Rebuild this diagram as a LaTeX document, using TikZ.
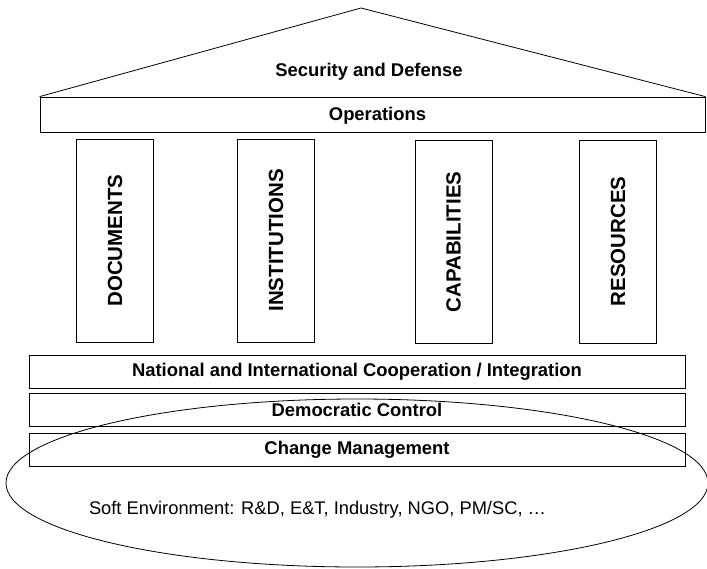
\documentclass[tikz,border=0pt]{standalone}
\usepackage{fontspec}
\setmainfont{Liberation Sans}
\usetikzlibrary{shapes.geometric}

\begin{document}
\begin{tikzpicture}[x=1pt,y=-1pt,line width=0.8pt,
  band/.style={draw,minimum width=656pt,minimum height=33pt,inner sep=0pt,
    font=\fontsize{18.4}{20}\selectfont\bfseries},
  pillar/.style={draw,rotate=90,minimum width=203pt,minimum height=77pt,inner sep=0pt,
    font=\fontsize{20.5}{22}\selectfont\bfseries}]
\useasboundingbox (0,0) rectangle (707,568);
% roof and beam
\node[band,minimum width=665pt,minimum height=35pt] (Ops) at (372.5,114.5) {};
\node[font=\fontsize{18.4}{20}\selectfont\bfseries] (OpsTxt) at (377.5,115.5) {Operations};
\coordinate (Apex) at (361,8);
\draw (Ops.north west) -- (Apex) -- (Ops.north east);
\node[font=\fontsize{18.4}{20}\selectfont\bfseries] (SD) at (369,72) {Security and Defense};
% pillars
\node[pillar] (Doc) at (115,240.5) {DOCUMENTS};
\node[pillar] (Inst) at (276,240.5) {INSTITUTIONS};
\node[pillar] (Cap) at (453.5,242) {CAPABILITIES};
\node[pillar] (Res) at (618,241.5) {RESOURCES};
% foundation
\node[band] (Coop) at (357,372) {National and International Cooperation / Integration};
\node[band] (Dem) at (357,409.5) {Democratic Control};
\node[band] (Chg) at (357,450) {Change Management};
\node[draw,ellipse,minimum width=702pt,minimum height=168pt] (Soft) at (357,483) {};
\node[font=\fontsize{18.3}{20}\selectfont] (SoftTxt) at (317.5,510) {Soft Environment: R\&D, E\&T, Industry, NGO, PM/SC, …};
\end{tikzpicture}
\end{document}
